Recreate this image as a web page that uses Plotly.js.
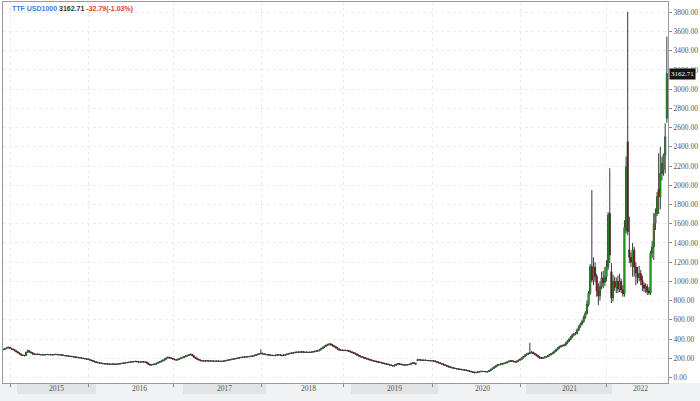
<!DOCTYPE html>
<html><head><meta charset="utf-8">
<script src="https://cdn.plot.ly/plotly-3.0.1.min.js"></script>
<style>html,body{margin:0;padding:0;background:#fff}#chart{width:700px;height:401px}</style>
</head><body><div id="chart"></div>
<script>
// ---------------- DATA (weekly bars) ----------------
const SYMBOL = 'TTF USD1000';
const LAST_CHANGE = -32.79;
const LAST_CHANGE_PCT = -1.03;
const FIRST_WEEK = '2014-11-03';

const OPEN = [
288,293,300,308,314,305,298,290,279,268,256,245,234,
231,228,262,279,266,258,245,242,240,243,239,237,238,
236,239,240,238,237,236,239,241,238,236,237,233,229,
227,224,222,220,218,215,212,210,207,204,201,198,195,
192,189,182,176,170,163,158,154,151,148,145,143,141,
140,139,138,140,139,138,140,142,146,148,151,154,156,
159,161,163,166,168,164,161,162,163,162,161,150,138,
130,133,137,140,148,157,164,172,181,192,202,210,205,
198,192,186,182,189,197,204,210,217,224,230,236,241,
226,210,200,190,182,175,173,172,174,173,171,172,172,
170,169,171,170,168,168,171,175,178,182,186,189,193,
196,199,203,207,210,212,213,215,217,219,222,224,230,
236,242,247,252,246,242,239,237,233,231,229,228,232,
235,237,232,228,233,238,244,248,252,255,258,262,263,
264,265,267,264,262,263,261,262,265,268,272,276,279,
290,302,314,325,335,342,349,340,330,321,309,297,286,
284,283,281,282,279,273,266,259,252,244,234,225,217,
211,205,199,193,187,182,177,172,168,164,160,156,152,
147,143,140,135,130,125,120,128,137,144,140,135,132,
130,131,134,137,146,154,147,180,182,184,181,179,180,
178,177,176,175,174,172,166,159,153,146,140,133,126,
119,112,106,102,98,94,91,88,85,82,80,78,74,
69,65,60,55,50,54,58,61,64,63,62,60,61,
72,84,96,108,120,130,134,139,143,147,154,161,168,
175,170,165,161,170,180,189,203,218,234,242,250,258,
262,250,240,228,215,205,200,206,211,217,227,237,248,
258,274,290,305,321,327,333,338,358,378,397,420,442,
451,460,495,529,555,581,625,668,760,880,
1153,1014,1150,1050,900,850,945,1035,990,1049,1153,1708,1100,830,1000,940,1000,920,1000,910,870,1535,2453,
1330,1250,1200,1327,1150,1087,1040,1080,1014,962,930,945,900,880,1295,1360,1604,1708,1960,1880,2124,2160,2315,2697
];

const HIGH = [
299,306,312,322,316,309,300,293,281,270,258,247,238,
236,268,290,283,270,262,250,247,249,247,243,244,243,
244,246,245,243,242,245,247,246,243,242,241,237,234,
231,229,227,225,223,220,217,215,212,209,206,203,200,
198,194,188,181,175,168,163,159,156,153,150,148,147,
146,145,146,146,145,146,148,152,155,157,160,162,165,
167,169,172,175,173,169,168,169,169,168,165,154,142,
139,143,147,154,163,171,179,188,199,209,218,214,208,
203,197,191,195,203,210,217,224,231,237,243,250,246,
231,216,205,195,187,180,178,179,180,178,178,178,177,
175,177,176,175,174,177,181,184,188,192,195,199,202,
205,209,213,216,218,219,221,223,225,228,231,237,243,
249,254,293,258,252,248,245,243,239,237,236,239,242,
244,243,238,240,245,251,255,259,262,265,269,270,271,
272,274,273,270,270,269,269,272,275,279,283,286,297,
309,322,333,344,352,358,356,347,337,328,316,303,293,
291,290,289,289,286,280,273,266,259,251,241,232,224,
217,212,206,200,194,189,184,179,175,171,167,163,159,
154,150,146,141,136,131,135,144,151,150,146,141,138,
137,140,143,152,161,160,153,188,191,190,187,186,186,
184,183,182,181,180,178,172,165,159,152,146,139,132,
125,118,112,107,103,99,96,93,90,87,85,83,79,
75,70,65,60,60,64,67,70,70,69,67,67,79,
91,104,116,128,138,141,146,150,154,161,168,176,183,
182,177,172,177,187,197,211,226,242,252,260,362,275,
270,258,247,235,222,211,213,218,224,235,245,256,267,
282,299,315,331,338,343,349,369,390,410,433,456,466,
475,510,545,572,600,645,690,800,900,1180,
1951,1250,1200,1080,980,1000,1100,1110,1150,1220,1720,2177,1190,1070,1050,1040,1060,1080,1030,960,1638,2300,3806,
1673,1300,1400,1360,1200,1150,1160,1120,1060,990,980,970,940,1320,1420,1710,1760,1930,2331,2400,2297,2330,2645,3546
];

const LOW = [
284,289,296,303,300,292,285,274,263,251,240,229,224,
220,224,255,261,252,240,236,234,236,233,231,232,230,
231,234,233,232,230,231,234,233,231,230,228,224,221,
219,217,215,213,210,207,204,202,199,196,193,190,187,
184,177,171,164,158,153,149,146,143,140,138,136,134,
134,133,133,134,133,133,135,137,141,143,146,149,151,
154,156,158,161,159,156,156,157,156,155,146,134,125,
125,128,132,135,143,151,159,167,176,187,196,199,193,
187,181,176,177,184,192,199,205,212,219,225,231,221,
205,195,185,177,170,168,167,167,168,166,166,167,165,
164,164,165,163,163,163,166,170,173,177,181,184,188,
191,194,198,202,205,207,208,210,212,214,217,219,225,
231,237,242,241,237,234,232,228,226,224,223,223,227,
230,227,223,223,228,233,239,243,247,250,253,256,257,
258,259,258,256,256,255,255,256,259,262,266,270,274,
284,296,307,318,328,336,334,324,315,303,291,280,278,
277,275,275,273,267,260,253,246,238,228,219,211,205,
199,193,187,181,176,171,166,162,158,154,150,146,141,
137,134,130,124,119,114,115,122,131,134,129,126,124,
124,126,129,131,140,141,134,174,176,175,173,173,172,
171,170,169,168,166,160,153,147,140,134,127,120,113,
106,100,96,92,88,85,82,79,76,74,72,68,63,
59,54,49,44,45,48,52,55,57,56,54,54,56,
66,78,90,102,114,124,128,133,137,141,148,155,162,
164,159,155,155,164,174,183,197,212,227,235,243,250,
243,233,221,208,198,193,194,200,205,210,220,230,240,
250,266,281,296,312,318,323,328,347,367,386,408,430,
440,450,485,518,545,570,610,655,741,860,
990,960,990,841,754,800,920,930,950,1000,1120,1190,775,790,900,880,880,890,880,841,841,1500,1480,
1190,1150,1049,1050,960,980,1000,960,900,890,880,858,860,860,1240,1222,1535,1680,1700,1750,2050,2100,2124,2650
];

const CLOSE = [
293,300,308,314,305,298,290,279,268,256,245,234,231,
228,262,279,266,258,245,242,240,243,239,237,238,236,
239,240,238,237,236,239,241,238,236,237,233,229,227,
224,222,220,218,215,212,210,207,204,201,198,195,192,
189,182,176,170,163,158,154,151,148,145,143,141,140,
139,138,140,139,138,140,142,146,148,151,154,156,159,
161,163,166,168,164,161,162,163,162,161,150,138,130,
133,137,140,148,157,164,172,181,192,202,210,205,198,
192,186,182,189,197,204,210,217,224,230,236,241,226,
210,200,190,182,175,173,172,174,173,171,172,172,170,
169,171,170,168,168,171,175,178,182,186,189,193,196,
199,203,207,210,212,213,215,217,219,222,224,230,236,
242,247,252,246,242,239,237,233,231,229,228,232,235,
237,232,228,233,238,244,248,252,255,258,262,263,264,
265,267,264,262,263,261,262,265,268,272,276,279,290,
302,314,325,335,342,349,340,330,321,309,297,286,284,
283,281,282,279,273,266,259,252,244,234,225,217,211,
205,199,193,187,182,177,172,168,164,160,156,152,147,
143,140,135,130,125,120,128,137,144,140,135,132,130,
131,134,137,146,154,147,140,182,184,181,179,180,178,
177,176,175,174,172,166,159,153,146,140,133,126,119,
112,106,102,98,94,91,88,85,82,80,78,74,69,
65,60,55,50,54,58,61,64,63,62,60,61,72,
84,96,108,120,130,134,139,143,147,154,161,168,175,
170,165,161,170,180,189,203,218,234,242,250,258,262,
250,240,228,215,205,200,206,211,217,227,237,248,258,
274,290,305,321,327,333,338,358,378,397,420,442,451,
460,495,529,555,581,625,668,760,880,1153,
1014,1150,1050,900,850,945,1035,990,1049,1153,1690,1274,830,1000,940,997,920,1000,910,870,1560,2193,1517,
1250,1200,1327,1150,1087,1040,1080,1014,962,930,945,893,880,1295,1360,1600,1708,1880,1880,2124,2228,2315,2505,3162.71
];

const YEAR_LABELS = ['2015','2016','2017','2018','2019','2020','2021','2022'];
const Y_TICKS = [0,200,400,600,800,1000,1200,1400,1600,1800,2000,2200,2400,2600,2800,3000,3200,3400,3600,3800];

// ---------------- LAYOUT CONSTANTS ----------------
const X_RANGE = ['2014-11-02', '2022-08-27'];
const Y_RANGE = [-57, 3907];
// start of each year's band on the time axis (as drawn in the reference)
const BAND_STARTS = ['2015-01-01','2015-12-06','2016-12-14','2017-12-05','2018-12-05','2019-12-14','2020-12-26','2021-12-30'];
// vertical grid / tick positions
const GRID_DATES = ['2014-12-06','2015-11-06','2016-11-05','2017-11-14','2018-11-01','2019-11-22','2020-11-30','2021-12-04'];

const PLOT_H = 401 - 2 - 18;

// ---------------- BUILD ----------------
const t0 = Date.parse(FIRST_WEEK + 'T00:00:00Z');
const DATES = CLOSE.map((_, i) => new Date(t0 + i * 7 * 86400000).toISOString().slice(0, 10));
const BODY_HI = CLOSE.map((c, i) => Math.max(c, OPEN[i]));
const BODY_LO = CLOSE.map((c, i) => Math.min(c, OPEN[i]));

const WICK = '#383838';
const UP = '#1f9a1f';
const DOWN = '#8c0c0c';

const wickTrace = {
  type: 'candlestick', x: DATES, open: OPEN, high: HIGH, low: LOW, close: CLOSE,
  increasing: { line: { color: WICK, width: 1 }, fillcolor: WICK },
  decreasing: { line: { color: WICK, width: 1 }, fillcolor: WICK },
  whiskerwidth: 0, hoverinfo: 'skip', showlegend: false
};
const bodyTrace = {
  type: 'candlestick', x: DATES, open: OPEN, high: BODY_HI, low: BODY_LO, close: CLOSE,
  increasing: { line: { color: UP, width: 0 }, fillcolor: UP },
  decreasing: { line: { color: DOWN, width: 0 }, fillcolor: DOWN },
  whiskerwidth: 0, hoverinfo: 'skip', showlegend: false
};

const bandH = 11 / PLOT_H;
const shapes = [{
  type: 'rect', xref: 'paper', yref: 'paper', x0: -3 / 665, x1: 1 + 32 / 665, y0: -18 / PLOT_H, y1: 0,
  fillcolor: '#f1f2f4', line: { width: 0 }, layer: 'below'
}];
const annotations = [];
const ms = d => Date.parse(d + 'T00:00:00Z');
const xEnd = ms(X_RANGE[1]);
BAND_STARTS.forEach((s, k) => {
  const e = k + 1 < BAND_STARTS.length ? BAND_STARTS[k + 1] : X_RANGE[1];
  if (k % 2 === 0) {
    shapes.push({ type: 'rect', xref: 'x', yref: 'paper', x0: s, x1: e, y0: -bandH, y1: 0,
      fillcolor: '#e2e3e5', line: { width: 0 }, layer: 'below' });
  }
  const mid = new Date((ms(s) + Math.min(ms(e), xEnd)) / 2).toISOString().slice(0, 10);
  annotations.push({ xref: 'x', yref: 'paper', x: mid, y: -bandH / 2, text: YEAR_LABELS[k],
    showarrow: false, xanchor: 'center', yanchor: 'middle',
    font: { family: 'Liberation Serif, DejaVu Serif, serif', size: 7.5, color: '#555' } });
});

const last = CLOSE[CLOSE.length - 1];
annotations.push({
  xref: 'paper', yref: 'paper', x: 7 / 665, y: 1 - 7 / PLOT_H, xanchor: 'left', yanchor: 'middle',
  showarrow: false, align: 'left',
  text: '<b><span style="color:#3b7de0">' + SYMBOL + '</span> <span style="color:#333">' + last.toFixed(2) +
        '</span> <span style="color:#e2401f">' + LAST_CHANGE.toFixed(2) + '(' + LAST_CHANGE_PCT.toFixed(2) + '%)</span></b>',
  font: { family: 'Liberation Sans, Arial, sans-serif', size: 7, color: '#333' }
});
annotations.push({
  xref: 'paper', yref: 'y', x: 1, y: last, xanchor: 'left', yanchor: 'middle', xshift: 1,
  showarrow: false, text: last.toFixed(2), bgcolor: '#141414', borderpad: 1,
  font: { family: 'Liberation Serif, DejaVu Serif, serif', size: 7, color: '#ffffff' }
});

const layout = {
  width: 700, height: 401,
  margin: { l: 3, r: 32, t: 2, b: 18, pad: 0 },
  paper_bgcolor: '#ffffff', plot_bgcolor: '#ffffff',
  showlegend: false, hovermode: false,
  boxgap: 0.1,
  xaxis: {
    type: 'date', range: X_RANGE, rangeslider: { visible: false },
    tickmode: 'array', tickvals: GRID_DATES, showticklabels: false,
    ticks: 'outside', ticklen: 3, tickcolor: '#8a8a8a',
    showgrid: true, gridcolor: '#ebebeb', griddash: '3px,3px', gridwidth: 1,
    showline: true, linecolor: '#9a9a9a', linewidth: 1, mirror: true, zeroline: false
  },
  yaxis: {
    side: 'right', range: Y_RANGE,
    tickmode: 'array', tickvals: Y_TICKS, tickformat: '.2f',
    ticks: 'outside', ticklen: 3, tickcolor: '#8a8a8a',
    tickfont: { family: 'Liberation Serif, DejaVu Serif, serif', size: 7.5, color: '#555' },
    showgrid: true, gridcolor: '#ebebeb', griddash: '3px,3px', gridwidth: 1,
    showline: true, linecolor: '#9a9a9a', linewidth: 1, mirror: true, zeroline: false
  },
  shapes: shapes,
  annotations: annotations
};

Plotly.newPlot('chart', [wickTrace, bodyTrace], layout, { staticPlot: true, displayModeBar: false });
</script>
</body></html>
